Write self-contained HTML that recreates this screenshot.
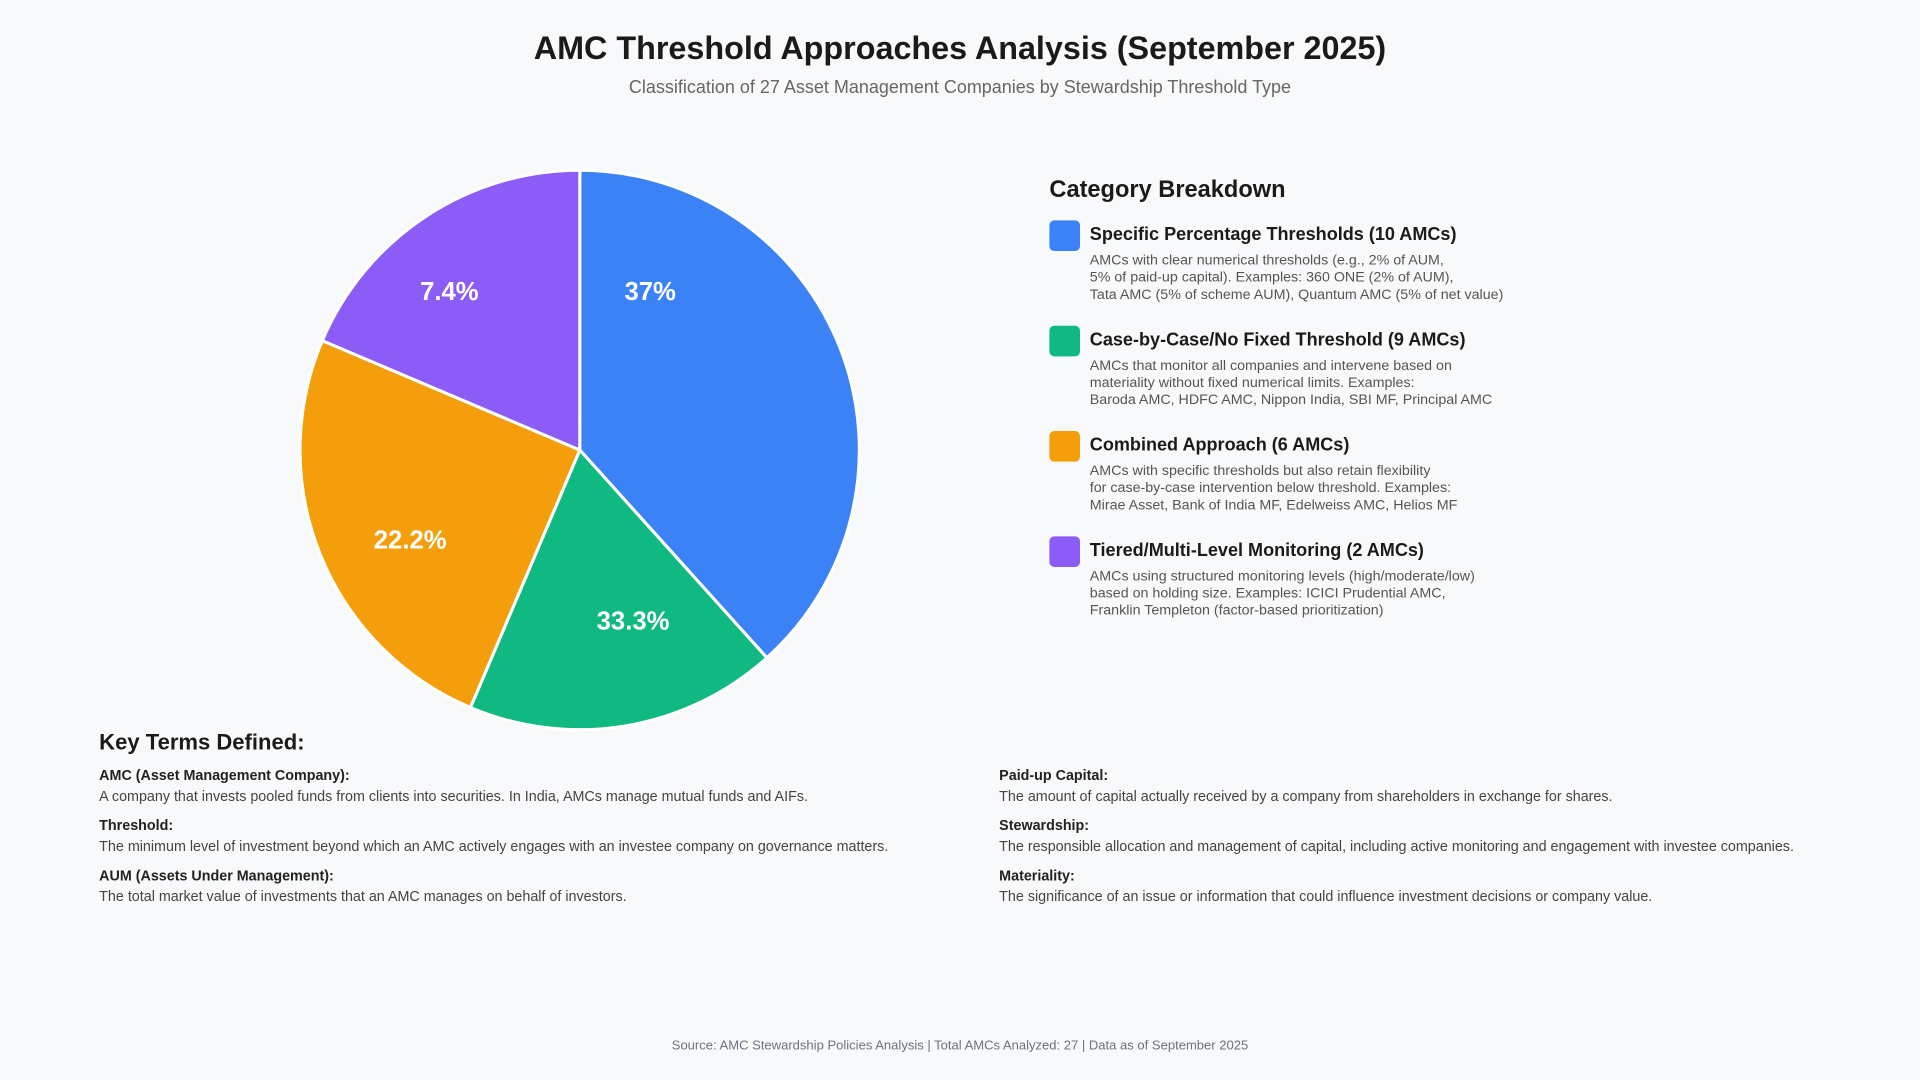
<!DOCTYPE html>
<html><head><meta charset="utf-8"><style>
html,body{margin:0;padding:0;background:#f8f9fb;}
body{width:1920px;height:1080px;overflow:hidden;font-family:"Liberation Sans",Arial,sans-serif;}
#w{position:absolute;left:0;top:0;width:1568px;height:882px;transform:scale(1.2244898);transform-origin:0 0;}
.a{position:absolute;}
h1{position:absolute;margin:0;left:0;width:1568px;text-align:center;top:24px;font-size:26.4px;font-weight:bold;color:#1a1a1a;}
.sub{left:0;width:1568px;text-align:center;top:64px;font-size:14.7px;color:#666;}
.cat{left:857px;font-size:12px;color:#555;}
.cat .sw{position:absolute;left:0;top:0;width:25px;height:25px;border-radius:4px;}
.cat .t{position:absolute;left:33px;top:4px;font-size:14.75px;font-weight:bold;color:#1a1a1a;white-space:nowrap;}
.cat .d{position:absolute;left:33px;top:26px;font-size:11.65px;line-height:14px;color:#555;white-space:nowrap;}
.term{font-size:11.7px;color:#444;white-space:nowrap;}
.term b{display:block;color:#222;margin-bottom:4px;}
</style></head><body><div id="w">
<h1>AMC Threshold Approaches Analysis (September 2025)</h1>
<div class="a sub">Classification of 27 Asset Management Companies by Stewardship Threshold Type</div>
<svg class="a" style="left:0;top:0" width="1568" height="882">
<g stroke="#fff" stroke-width="2.5" stroke-linejoin="round">
<path d="M473.5,367.5 L473.5,139 A228.5,228.5 0 0 1 626.3,537.2 Z" fill="#3b82f6"/>
<path d="M473.5,367.5 L626.3,537.2 A228.5,228.5 0 0 1 384.2,577.8 Z" fill="#10b981"/>
<path d="M473.5,367.5 L384.2,577.8 A228.5,228.5 0 0 1 263.2,278.2 Z" fill="#f59e0b"/>
<path d="M473.5,367.5 L263.2,278.2 A228.5,228.5 0 0 1 473.5,139 Z" fill="#8b5cf6"/>
</g>
<g fill="#fff" font-weight="bold" font-size="21" text-anchor="middle" font-family="Liberation Sans,Arial,sans-serif">
<text x="531" y="245">37%</text>
<text x="517" y="514">33.3%</text>
<text x="335" y="448">22.2%</text>
<text x="367" y="245">7.4%</text>
</g>
</svg>
<div class="a" style="left:857px;top:145px;font-size:19.3px;font-weight:bold;color:#1a1a1a">Category Breakdown</div>
<div class="a cat" style="top:180px"><div class="sw" style="background:#3b82f6"></div><div class="t">Specific Percentage Thresholds (10 AMCs)</div><div class="d">AMCs with clear numerical thresholds (e.g., 2% of AUM,<br>5% of paid-up capital). Examples: 360 ONE (2% of AUM),<br>Tata AMC (5% of scheme AUM), Quantum AMC (5% of net value)</div></div>
<div class="a cat" style="top:266px"><div class="sw" style="background:#10b981"></div><div class="t">Case-by-Case/No Fixed Threshold (9 AMCs)</div><div class="d">AMCs that monitor all companies and intervene based on<br>materiality without fixed numerical limits. Examples:<br>Baroda AMC, HDFC AMC, Nippon India, SBI MF, Principal AMC</div></div>
<div class="a cat" style="top:352px"><div class="sw" style="background:#f59e0b"></div><div class="t">Combined Approach (6 AMCs)</div><div class="d">AMCs with specific thresholds but also retain flexibility<br>for case-by-case intervention below threshold. Examples:<br>Mirae Asset, Bank of India MF, Edelweiss AMC, Helios MF</div></div>
<div class="a cat" style="top:438px"><div class="sw" style="background:#8b5cf6"></div><div class="t">Tiered/Multi-Level Monitoring (2 AMCs)</div><div class="d">AMCs using structured monitoring levels (high/moderate/low)<br>based on holding size. Examples: ICICI Prudential AMC,<br>Franklin Templeton (factor-based prioritization)</div></div>
<div class="a" style="left:81px;top:596px;font-size:18px;font-weight:bold;color:#1a1a1a">Key Terms Defined:</div>
<div class="a term" style="left:81px;top:627px"><b>AMC (Asset Management Company):</b>A company that invests pooled funds from clients into securities. In India, AMCs manage mutual funds and AIFs.</div>
<div class="a term" style="left:81px;top:668px"><b>Threshold:</b>The minimum level of investment beyond which an AMC actively engages with an investee company on governance matters.</div>
<div class="a term" style="left:81px;top:709px"><b>AUM (Assets Under Management):</b>The total market value of investments that an AMC manages on behalf of investors.</div>
<div class="a term" style="left:816px;top:627px"><b>Paid-up Capital:</b>The amount of capital actually received by a company from shareholders in exchange for shares.</div>
<div class="a term" style="left:816px;top:668px"><b>Stewardship:</b>The responsible allocation and management of capital, including active monitoring and engagement with investee companies.</div>
<div class="a term" style="left:816px;top:709px"><b>Materiality:</b>The significance of an issue or information that could influence investment decisions or company value.</div>
<div class="a" style="left:0;width:1568px;text-align:center;top:848px;font-size:10.65px;color:#6b7280">Source: AMC Stewardship Policies Analysis | Total AMCs Analyzed: 27 | Data as of September 2025</div>
</div></body></html>
